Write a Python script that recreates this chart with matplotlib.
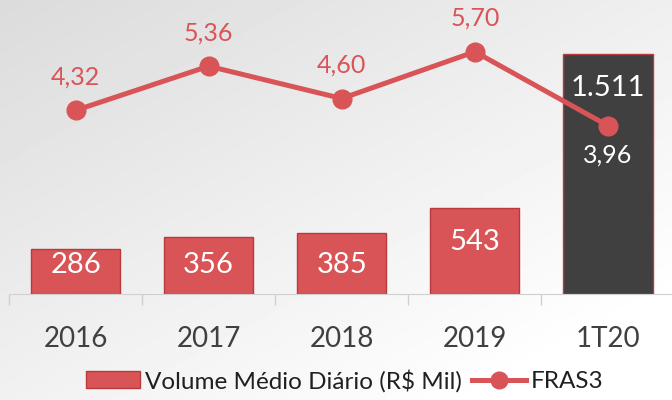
import numpy as np
import matplotlib.pyplot as plt
from matplotlib.lines import Line2D
from matplotlib.patches import Patch

plt.rcParams["font.family"] = ["Lato", "DejaVu Sans"]

categories = ["2016", "2017", "2018", "2019", "1T20"]
volume = [286, 356, 385, 543, 1511]
fras3 = [4.32, 5.36, 4.60, 5.70, 3.96]

RED = "#D95457"
EDGE = "#B9393C"
DARK = "#404040"
GRAY_TXT = "#404040"


def fmt_int(v):
    return f"{v:,}".replace(",", ".")


def fmt_dec(v):
    return f"{v:.2f}".replace(".", ",")


fig = plt.figure(figsize=(6.72, 4.0), dpi=100)

# soft gray-to-white background
bg = fig.add_axes([0, 0, 1, 1], zorder=-10)
gx, gy = np.meshgrid(np.linspace(0, 1, 200), np.linspace(0, 1, 120))
shade = 0.86 + 0.14 * np.clip(0.55 * gx + 0.6 * gy, 0, 1)
bg.imshow(shade, cmap="gray", vmin=0, vmax=1, extent=[0, 1, 1, 0], aspect="auto")
bg.set_axis_off()

ax = fig.add_axes([9 / 672, 106 / 400, 665.5 / 672, 294 / 400])
ax.set_facecolor("none")
x = np.arange(len(categories))
colors = [RED] * (len(volume) - 1) + [DARK]
ax.bar(x, volume, width=0.67, color=colors, edgecolor=EDGE, linewidth=1)
ax.set_xlim(-0.5, len(categories) - 0.5)
ax.set_ylim(0, 294 / 0.159)

for xi, v in zip(x, volume):
    ax.text(xi, max(v - 214, 182), fmt_int(v), ha="center", va="center",
            color="white", fontsize=21)

for s in ["top", "left", "right"]:
    ax.spines[s].set_visible(False)
ax.spines["bottom"].set_color("#D0D0D0")
ax.set_yticks([])
ax.set_xticks(x)
ax.set_xticklabels(categories, fontsize=20, color=GRAY_TXT)
ax.tick_params(axis="x", which="major", length=0, pad=23)
ax.set_xticks(np.arange(-0.5, len(categories)), minor=True)
ax.tick_params(axis="x", which="minor", length=8, color="#D0D0D0", width=1)

ax2 = ax.twinx()
ax2.set_ylim(0, 294 / 42.5)
ax2.plot(x, fras3, color=RED, linewidth=3.6, marker="o", markersize=13.5)
ax2.set_yticks([])
for s in ["top", "left", "right", "bottom"]:
    ax2.spines[s].set_visible(False)

for i, (xi, v) in enumerate(zip(x, fras3)):
    if i == len(fras3) - 1:
        ax2.annotate(fmt_dec(v), (xi, v), xytext=(0, -21), textcoords="offset points",
                     ha="center", va="center", color="white", fontsize=18)
    else:
        ax2.annotate(fmt_dec(v), (xi, v), xytext=(0, 24), textcoords="offset points",
                     ha="center", va="center", color=RED, fontsize=18)

handles = [
    Patch(facecolor=RED, edgecolor=EDGE),
    Line2D([], [], color=RED, linewidth=3.6, marker="o", markersize=12),
]
fig.legend(handles, ["Volume Médio Diário (R$ Mil)", "FRAS3"], loc="lower center",
           bbox_to_anchor=(0.513, -0.035), ncol=2, frameon=False, fontsize=17.5,
           handlelength=2.2, handletextpad=0.2, columnspacing=0.45,
           labelcolor="#202020")

fig.savefig("out.png", dpi=100)
